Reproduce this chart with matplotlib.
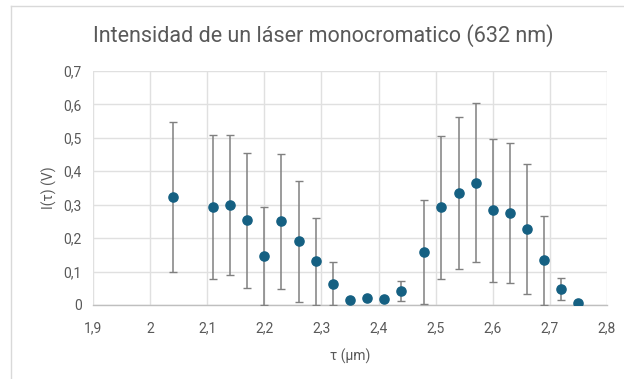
import matplotlib
matplotlib.use("Agg")
import matplotlib.pyplot as plt
from matplotlib.lines import Line2D

tau = [2.04, 2.11, 2.14, 2.17, 2.20, 2.23, 2.26, 2.29, 2.32, 2.35, 2.38, 2.41,
       2.44, 2.48, 2.51, 2.54, 2.57, 2.60, 2.63, 2.66, 2.69, 2.72, 2.75]
intensity = [0.322, 0.293, 0.299, 0.253, 0.146, 0.250, 0.190, 0.131, 0.064, 0.015, 0.021, 0.018,
             0.042, 0.158, 0.292, 0.334, 0.366, 0.283, 0.276, 0.228, 0.134, 0.048, 0.006]
error = [0.224, 0.215, 0.209, 0.203, 0.147, 0.202, 0.181, 0.130, 0.064, 0.0, 0.0, 0.0,
         0.030, 0.155, 0.214, 0.227, 0.238, 0.213, 0.210, 0.195, 0.133, 0.033, 0.0]

xticks = [1.9, 2.0, 2.1, 2.2, 2.3, 2.4, 2.5, 2.6, 2.7, 2.8]
xticklabels = ["1,9", "2", "2,1", "2,2", "2,3", "2,4", "2,5", "2,6", "2,7", "2,8"]
yticks = [0, 0.1, 0.2, 0.3, 0.4, 0.5, 0.6, 0.7]
yticklabels = ["0", "0,1", "0,2", "0,3", "0,4", "0,5", "0,6", "0,7"]

plt.rcParams['font.family'] = ['Roboto', 'DejaVu Sans']
gray = '#595959'

fig = plt.figure(figsize=(6.24, 3.79), dpi=100)
ax = fig.add_axes([93/624, 1 - 305/379, (607-93)/624, (305-71)/379])

ax.errorbar(tau, intensity, yerr=error, fmt='o', color='#156082', markersize=6.6,
            ecolor='#808080', elinewidth=1.1, capsize=3, capthick=1.0, zorder=3)

ax.set_xlim(1.9, 2.8)
ax.set_ylim(0, 0.7)
ax.set_xticks(xticks)
ax.set_xticklabels(xticklabels)
ax.set_yticks(yticks)
ax.set_yticklabels(yticklabels)
ax.grid(True, color='#e0e0e0', linewidth=1.0, zorder=0)
ax.set_axisbelow(True)
for s in ['top', 'right', 'left']:
    ax.spines[s].set_visible(False)
ax.spines['bottom'].set_color('#bfbfbf')
ax.spines['bottom'].set_linewidth(1.0)
ax.tick_params(axis='both', length=0, colors=gray, labelsize=10)
ax.tick_params(axis='x', pad=12)
ax.tick_params(axis='y', pad=8)

ax.set_xlabel('τ (μm)', color=gray, fontsize=10, labelpad=9)
ax.set_ylabel('I(τ) (V)', color=gray, fontsize=10, labelpad=5)

fig.text(0.518, 1 - 36/379, 'Intensidad de un láser monocromatico (632 nm)',
         ha='center', va='center', color=gray, fontsize=15.5)

# outer chart frame (partially visible)
fig.add_artist(Line2D([11/624, 11/624], [0, 1 - 6/379], transform=fig.transFigure,
                      color='#d9d9d9', linewidth=1.0))
fig.add_artist(Line2D([11/624, 1], [1 - 6/379, 1 - 6/379], transform=fig.transFigure,
                      color='#d9d9d9', linewidth=1.0))

fig.savefig('out.png', dpi=100)
